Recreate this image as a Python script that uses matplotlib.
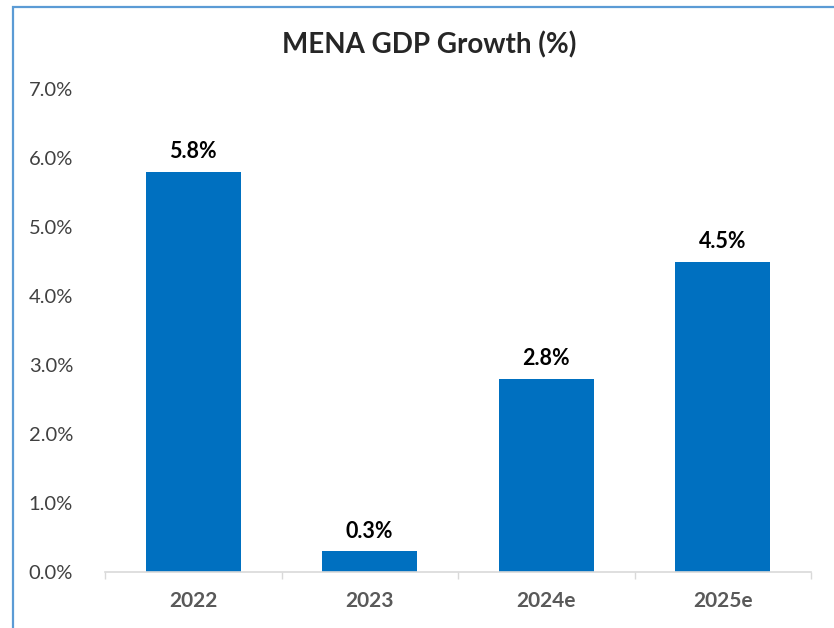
import matplotlib
matplotlib.use("Agg")
import matplotlib.pyplot as plt
from matplotlib.patches import Rectangle

categories = ["2022", "2023", "2024e", "2025e"]
values = [5.8, 0.3, 2.8, 4.5]
yticks = [0, 1, 2, 3, 4, 5, 6, 7]

plt.rcParams['font.family'] = ['Lato', 'DejaVu Sans']

fig = plt.figure(figsize=(8.34, 6.28), dpi=100)
fig.patch.set_facecolor('white')
ax = fig.add_axes([105/834, 56/628, (811-105)/834, (572-89)/628])

x = range(len(categories))
ax.bar(x, values, width=0.54, color='#0070C0', zorder=2)
for xi, v in zip(x, values):
    ax.text(xi, v + 0.14, f"{v:.1f}%", ha='center', va='bottom',
            fontsize=15.5, fontweight='bold', color='#000000')

ax.set_xlim(-0.5, len(categories) - 0.5)
ax.set_ylim(0, 7)
ax.set_yticks(yticks)
ax.set_yticklabels([f"{t:.1f}%" for t in yticks], fontsize=14.5, color='#404040')
ax.set_xticks(list(x))
ax.set_xticklabels(categories, fontsize=15, fontweight='bold', color='#595959')
ax.tick_params(axis='y', length=0, pad=23)
ax.tick_params(axis='x', length=0, pad=14)
ax.set_xticks([-0.5, 0.5, 1.5, 2.5, 3.5], minor=True)
ax.tick_params(axis='x', which='minor', length=5, color='#D9D9D9', width=1)
for s in ['top', 'right', 'left']:
    ax.spines[s].set_visible(False)
ax.spines['bottom'].set_color('#D9D9D9')
ax.spines['bottom'].set_linewidth(1.2)

fig.text(429/834, 1 - 45/628, "MENA GDP Growth (%)", ha='center', va='center',
         fontsize=20, fontweight='bold', color='#262626')

fig.patches.append(Rectangle((13/834, -0.05), 1.0, 1 - 7/628 + 0.05,
                             transform=fig.transFigure, fill=False,
                             edgecolor='#5B9BD5', linewidth=1.6))

fig.savefig("out.png", dpi=100)
